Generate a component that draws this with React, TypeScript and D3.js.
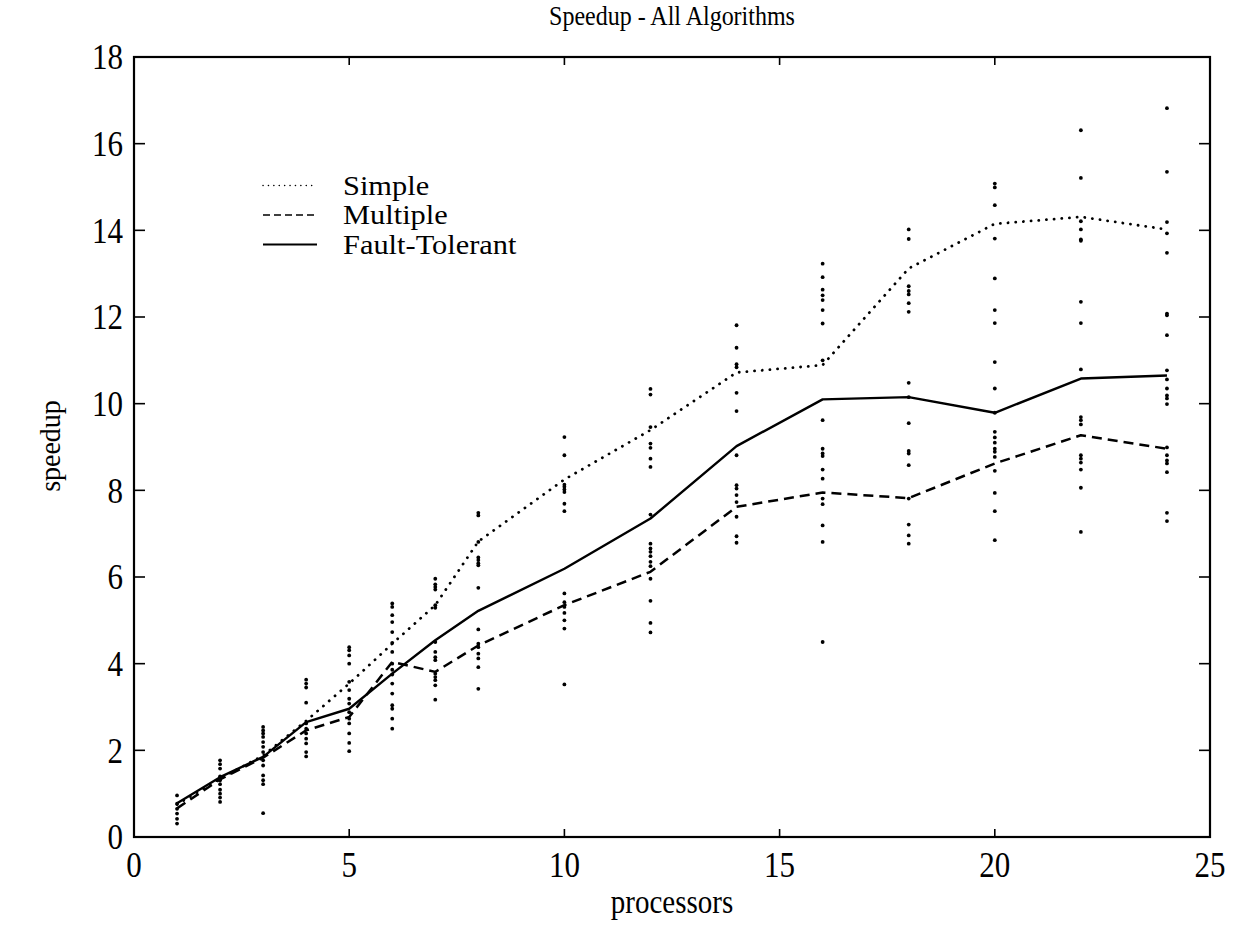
import React from "react";
import * as d3 from "d3";

const processors = [1, 2, 3, 4, 5, 6, 7, 8, 10, 12, 14, 16, 18, 20, 22, 24];
const simpleMean = [0.75, 1.35, 1.88, 2.68, 3.54, 4.46, 5.35, 6.82, 8.25, 9.39, 10.72, 10.89, 13.12, 14.15, 14.31, 14.02];
const multipleMean = [0.66, 1.33, 1.83, 2.46, 2.77, 4.04, 3.81, 4.42, 5.35, 6.12, 7.62, 7.95, 7.82, 8.62, 9.27, 8.96];
const faultMean = [0.78, 1.38, 1.85, 2.65, 2.96, 3.77, 4.54, 5.22, 6.19, 7.35, 9.02, 10.1, 10.15, 9.79, 10.58, 10.65];

// individual run speedups, one list per processor count (same order as processors)
const samples = [
  [0.96, 0.77, 0.65, 0.54, 0.42, 0.31],
  [1.77, 1.68, 1.58, 1.4, 1.31, 1.22, 1.09, 1.0, 0.91, 0.81],
  [2.54, 2.46, 2.39, 2.31, 2.19, 2.08, 1.96, 1.77, 1.65, 1.42, 1.31, 1.22, 0.55],
  [3.63, 3.54, 3.45, 3.1, 2.62, 2.5, 2.39, 2.27, 2.16, 1.96, 1.86],
  [4.38, 4.31, 4.19, 4.0, 3.58, 3.39, 3.19, 3.08, 2.88, 2.73, 2.62, 2.39, 2.17, 1.98],
  [5.39, 5.31, 5.12, 4.96, 4.73, 4.48, 4.27, 4.0, 3.86, 3.75, 3.54, 3.31, 3.04, 2.96, 2.73, 2.5],
  [5.96, 5.83, 5.77, 5.71, 5.35, 5.29, 4.5, 4.27, 4.15, 4.08, 3.77, 3.69, 3.62, 3.5, 3.17],
  [7.48, 7.42, 6.81, 6.45, 6.39, 6.32, 6.27, 5.75, 4.79, 4.46, 4.38, 4.23, 4.12, 3.92, 3.42],
  [9.23, 8.81, 8.13, 8.08, 8.02, 7.96, 7.69, 7.52, 5.62, 5.42, 5.31, 5.17, 5.0, 4.81, 3.52],
  [10.34, 10.21, 9.46, 9.08, 8.98, 8.73, 8.54, 7.44, 6.77, 6.66, 6.58, 6.48, 6.35, 6.25, 5.96, 5.45, 4.94, 4.72],
  [11.81, 11.29, 10.91, 10.84, 10.25, 9.83, 8.81, 8.12, 8.04, 7.89, 7.73, 7.39, 6.94, 6.79],
  [13.23, 12.92, 12.63, 12.5, 12.39, 12.16, 11.85, 11.0, 9.62, 8.96, 8.85, 8.79, 8.48, 8.27, 7.81, 7.68, 7.19, 6.81, 4.5],
  [14.02, 13.8, 12.71, 12.6, 12.52, 12.32, 12.12, 10.48, 10.15, 9.55, 8.91, 8.85, 8.58, 7.81, 7.21, 6.96, 6.77],
  [15.08, 14.99, 14.58, 13.81, 12.89, 12.16, 11.86, 10.96, 10.35, 9.79, 9.35, 9.22, 9.1, 8.96, 8.89, 8.77, 8.45, 7.94, 7.52, 6.85],
  [16.31, 15.21, 14.21, 14.02, 13.79, 13.76, 12.35, 11.86, 10.79, 9.69, 9.62, 9.52, 8.81, 8.73, 8.64, 8.48, 8.06, 7.04],
  [16.82, 15.35, 14.19, 13.93, 13.48, 12.08, 12.04, 11.58, 10.77, 10.56, 10.35, 10.19, 10.12, 9.99, 8.99, 8.81, 8.69, 8.62, 8.42, 7.48, 7.29],
];

const xTicks = [0, 5, 10, 15, 20, 25];
const yTicks = [0, 2, 4, 6, 8, 10, 12, 14, 16, 18];
const seriesNames = ["Simple", "Multiple", "Fault-Tolerant"];

const W = 1237;
const H = 951;
const L = 134, R = 1210, T = 57, B = 837;
const FONT = "'Liberation Serif', 'DejaVu Serif', serif";
const VS = 1.14; // vertical stretch of the scanned lettering

function T2(props: {
  x: number;
  y: number;
  size: number;
  sx?: number;
  sy?: number;
  anchor?: string;
  baseline?: string;
  children: React.ReactNode;
}) {
  const { x, y, size, anchor, baseline, children } = props;
  const sx = props.sx ?? 1;
  const sy = props.sy ?? VS;
  return (
    <text
      transform={`translate(${x},${y}) scale(${sx},${sy})`}
      textAnchor={anchor || "start"}
      dominantBaseline={baseline || "auto"}
      fontSize={size}
    >
      {children}
    </text>
  );
}

export default function App() {
  const x = d3.scaleLinear().domain([0, 25]).range([L, R]);
  const y = d3.scaleLinear().domain([0, 18]).range([B, T]);
  const line = d3
    .line<number>()
    .x((_, i) => x(processors[i]))
    .y((d) => y(d));

  const styles = [
    { dash: "0.1 7.6", width: 2.8, cap: "round" as const, legendDash: "0.1 5.3", legendWidth: 1.5 },
    { dash: "10 6", width: 2.5, cap: "butt" as const, legendDash: "7 4", legendWidth: 1.6 },
    { dash: undefined, width: 2.4, cap: "butt" as const, legendDash: undefined, legendWidth: 2 },
  ];
  const means = [simpleMean, multipleMean, faultMean];

  const dots: { cx: number; cy: number }[] = [];
  samples.forEach((arr, i) => arr.forEach((v) => dots.push({ cx: x(processors[i]), cy: y(v) })));

  return (
    <svg
      width={W}
      height={H}
      style={{ position: "absolute", left: 0, top: 0, background: "#fff" }}
      fontFamily={FONT}
    >
      <rect x={0} y={0} width={W} height={H} fill="#fff" />
      <T2 x={672} y={25} size={24} anchor="middle">
        Speedup - All Algorithms
      </T2>

      {/* scatter samples */}
      {dots.map((d, i) => (
        <circle key={i} cx={d.cx} cy={d.cy} r={1.9} fill="#000" />
      ))}

      {/* series lines */}
      {means.map((m, i) => (
        <path
          key={i}
          d={line(m) || ""}
          fill="none"
          stroke="#000"
          strokeWidth={styles[i].width}
          strokeDasharray={styles[i].dash}
          strokeLinecap={styles[i].cap}
          strokeLinejoin="round"
        />
      ))}

      {/* axes box */}
      <rect x={L} y={T} width={R - L} height={B - T} fill="none" stroke="#000" strokeWidth={2.2} />
      {xTicks.map((t) => (
        <g key={"x" + t}>
          <line x1={x(t)} x2={x(t)} y1={B} y2={B - 8} stroke="#000" strokeWidth={1.6} />
          <line x1={x(t)} x2={x(t)} y1={T} y2={T + 8} stroke="#000" strokeWidth={1.6} />
          <T2 x={x(t)} y={877} size={31} anchor="middle">
            {t}
          </T2>
        </g>
      ))}
      {yTicks.map((t) => (
        <g key={"y" + t}>
          <line x1={L} x2={L + 11} y1={y(t)} y2={y(t)} stroke="#000" strokeWidth={1.6} />
          <line x1={R} x2={R - 11} y1={y(t)} y2={y(t)} stroke="#000" strokeWidth={1.6} />
          <T2 x={123} y={y(t)} size={31} anchor="end" baseline="central">
            {t}
          </T2>
        </g>
      ))}

      <text
        transform="translate(50,446) rotate(-90) scale(1,1.08)"
        textAnchor="middle"
        dominantBaseline="central"
        fontSize={28}
      >
        speedup
      </text>
      <T2 x={672} y={913} size={29} anchor="middle">
        processors
      </T2>

      {/* legend */}
      {seriesNames.map((name, i) => {
        const ly = 185.5 + i * 29.5;
        return (
          <g key={name}>
            <line
              x1={263}
              x2={317}
              y1={ly}
              y2={ly}
              stroke="#000"
              strokeWidth={styles[i].legendWidth}
              strokeDasharray={styles[i].legendDash}
              strokeLinecap={i === 0 ? "round" : "butt"}
            />
            <T2 x={343} y={ly} size={26} sx={1.17} sy={1.04} baseline="central">
              {name}
            </T2>
          </g>
        );
      })}
    </svg>
  );
}
